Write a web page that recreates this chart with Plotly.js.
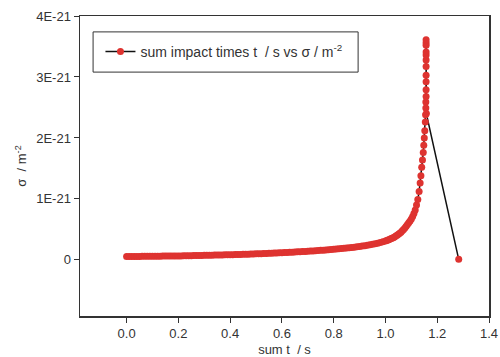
<!DOCTYPE html>
<html>
<head>
<meta charset="utf-8">
<script src="https://cdn.plot.ly/plotly-3.0.1.min.js"></script>
<style>html,body{margin:0;padding:0;background:#fff;}#chart{width:500px;height:357px;}</style>
</head>
<body>
<div id="chart"></div>
<script>
// sum impact times t (s)
const sumT = [
  0.00,0.01,0.02,0.03,0.04,0.05,0.06,0.07,0.08,0.09,
  0.10,0.11,0.12,0.13,0.14,0.15,0.16,0.17,0.18,0.19,
  0.20,0.21,0.22,0.23,0.24,0.25,0.26,0.27,0.28,0.29,
  0.30,0.31,0.32,0.33,0.34,0.35,0.36,0.37,0.38,0.39,
  0.40,0.41,0.42,0.43,0.44,0.45,0.46,0.47,0.48,0.49,
  0.50,0.51,0.52,0.53,0.54,0.55,0.56,0.57,0.58,0.59,
  0.60,0.61,0.62,0.63,0.64,0.65,0.66,0.67,0.68,0.69,
  0.70,0.71,0.72,0.73,0.74,0.75,0.76,0.77,0.78,0.79,
  0.80,0.81,0.82,0.83,0.84,0.85,0.86,0.87,0.88,0.89,
  0.90,0.91,0.92,0.93,0.94,0.95,0.96,0.97,0.98,0.99,
  1.00,1.005,1.01,1.015,1.02,1.025,1.03,1.035,1.04,1.045,
  1.05,1.055,1.06,1.065,1.07,1.075,1.08,1.085,1.09,1.095,
  1.10,1.105,1.11,1.115,1.12,1.125,1.13,1.134,1.137,1.140,
  1.143,1.146,1.148,1.150,1.152,1.154,1.155,1.156,1.156,1.157,
  1.157,1.157,1.157,1.157,1.157,1.157,1.157,1.157,1.157,1.157,
  1.158,1.283
];
// sigma in units of 1E-21 m^-2
const sigma = [
  0.055,0.055,0.056,0.056,0.057,0.057,0.058,0.058,0.059,0.059,
  0.060,0.060,0.061,0.061,0.062,0.062,0.063,0.063,0.064,0.065,
  0.066,0.066,0.067,0.068,0.069,0.070,0.071,0.072,0.073,0.074,
  0.075,0.076,0.077,0.078,0.079,0.080,0.081,0.082,0.083,0.084,
  0.085,0.086,0.088,0.089,0.090,0.091,0.093,0.094,0.096,0.097,
  0.099,0.100,0.102,0.104,0.106,0.108,0.110,0.112,0.114,0.116,
  0.118,0.120,0.122,0.124,0.127,0.129,0.132,0.134,0.137,0.139,
  0.142,0.145,0.148,0.151,0.154,0.157,0.160,0.163,0.167,0.170,
  0.174,0.178,0.182,0.186,0.190,0.194,0.199,0.204,0.209,0.214,
  0.220,0.226,0.233,0.240,0.248,0.256,0.265,0.275,0.285,0.297,
  0.310,0.317,0.325,0.335,0.345,0.355,0.365,0.377,0.390,0.405,
  0.420,0.437,0.455,0.477,0.500,0.525,0.550,0.580,0.610,0.640,
  0.670,0.710,0.760,0.820,0.900,0.990,1.120,1.260,1.380,1.520,
  1.640,1.760,1.880,2.000,2.120,2.260,2.380,2.490,2.590,2.680,
  2.790,2.920,3.030,3.170,3.280,3.360,3.410,3.520,3.560,3.610,
  2.400,0.010
];
const scale = 1e-21;
const yTickVals = [0, 1, 2, 3, 4];
const yTickText = ['0', '1E-21', '2E-21', '3E-21', '4E-21'];
const xTickVals = [0.0, 0.2, 0.4, 0.6, 0.8, 1.0, 1.2, 1.4];
const xTickText = ['0.0', '0.2', '0.4', '0.6', '0.8', '1.0', '1.2', '1.4'];

const font = {family: 'Liberation Sans, Arial, sans-serif', size: 13, color: '#333'};
const legendFont = {family: 'Liberation Sans, Arial, sans-serif', size: 14, color: '#333'};

const trace = {
  x: sumT,
  y: sigma.map(v => v * scale),
  mode: 'lines+markers',
  name: 'sum impact times t  / s vs σ / m<sup>-2</sup>',
  line: {color: '#111', width: 1.5},
  marker: {color: '#de3330', size: 7},
  cliponaxis: false
};

const layout = {
  width: 500, height: 357,
  margin: {l: 80, r: 11, t: 16, b: 41},
  paper_bgcolor: '#fff', plot_bgcolor: '#fff',
  font: font,
  showlegend: true,
  legend: {x: 0.05, y: 0.88, xanchor: 'left', yanchor: 'middle', bgcolor: 'rgba(0,0,0,0)', borderwidth: 0, font: legendFont},
  xaxis: {
    range: [-0.18, 1.4],
    tickvals: xTickVals, ticktext: xTickText,
    ticks: 'outside', ticklen: 5, tickcolor: '#333',
    showline: true, linecolor: '#333', linewidth: 1.5, mirror: true,
    showgrid: false, zeroline: false,
    title: {text: 'sum t  / s', font: font, standoff: 6}
  },
  yaxis: {
    range: [-0.92e-21, 4e-21],
    tickvals: yTickVals.map(v => v * scale), ticktext: yTickText,
    ticks: 'outside', ticklen: 5, tickcolor: '#333',
    showline: true, linecolor: '#333', linewidth: 1.5, mirror: true,
    showgrid: false, zeroline: false,
    title: {text: 'σ  / m<sup>-2</sup>', font: font, standoff: 6}
  },
  shapes: [{
    type: 'rect', xref: 'paper', yref: 'paper',
    x0: 0.032, x1: 0.680, y0: 0.813, y1: 0.947,
    line: {color: '#333', width: 1}, fillcolor: 'rgba(0,0,0,0)'
  }]
};

Plotly.newPlot('chart', [trace], layout, {staticPlot: true, displayModeBar: false});
</script>
</body>
</html>
